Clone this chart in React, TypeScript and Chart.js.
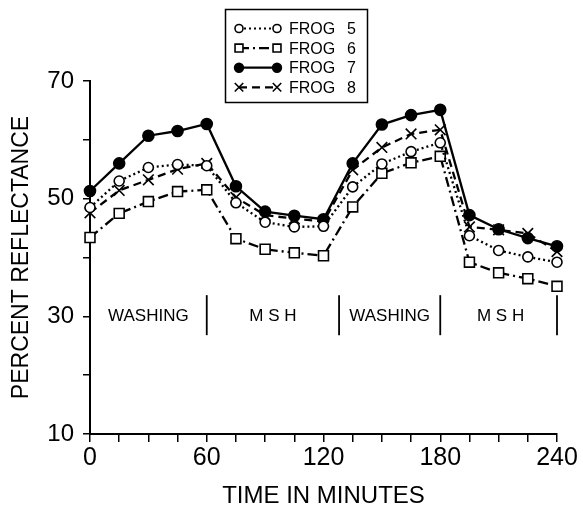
import React, { useEffect, useRef } from 'react';
import { Chart, registerables } from 'chart.js';

Chart.register(...registerables);

const minutes = [0, 15, 30, 45, 60, 75, 90, 105, 120, 135, 150, 165, 180, 195, 210, 225, 240];
const frog5 = [48.5, 53.0, 55.3, 55.8, 55.6, 49.3, 46.0, 45.2, 45.3, 52.0, 55.9, 58.0, 59.5, 43.7, 41.2, 40.1, 39.2];
const frog6 = [43.4, 47.5, 49.5, 51.2, 51.5, 43.2, 41.4, 40.8, 40.3, 48.6, 54.3, 56.1, 57.2, 39.2, 37.4, 36.4, 35.1];
const frog7 = [51.3, 56.0, 60.7, 61.5, 62.7, 52.1, 47.8, 47.1, 46.5, 56.0, 62.6, 64.2, 65.1, 47.2, 44.8, 43.3, 41.9];
const frog8 = [47.6, 51.4, 53.2, 55.0, 56.0, 50.2, 47.2, 46.6, 46.1, 54.9, 58.7, 61.0, 61.7, 45.2, 44.7, 44.1, 41.0];

const seriesNames = ['FROG 5', 'FROG 6', 'FROG 7', 'FROG 8'];
const xTickLabels = [0, 60, 120, 180, 240];
const yTickLabels = [10, 30, 50, 70];

const phaseLabels = ['WASHING', 'M S H', 'WASHING', 'M S H'];
const phaseCenters = [30, 94, 154, 211];
const phaseBounds = [60, 128, 180, 240];
const phaseTop = 33.6;
const phaseBottom = 26.8;
const phaseLabelY = 30;

const FONT = '"Liberation Sans", Arial, sans-serif';

type Style = { pointStyle: string; dash: number[]; filled: boolean; radius: number };

const styles: Style[] = [
  { pointStyle: 'circle', dash: [2, 3], filled: false, radius: 5 },
  { pointStyle: 'rect', dash: [10, 4, 2, 4], filled: false, radius: 7 },
  { pointStyle: 'circle', dash: [], filled: true, radius: 5.5 },
  { pointStyle: 'crossRot', dash: [8, 5], filled: false, radius: 7.5 },
];

function drawMarker(ctx: CanvasRenderingContext2D, st: Style, x: number, y: number, scale = 1) {
  const r = st.radius * scale;
  ctx.save();
  ctx.setLineDash([]);
  ctx.lineWidth = 1.6;
  ctx.strokeStyle = '#000';
  ctx.fillStyle = st.filled ? '#000' : '#fff';
  ctx.beginPath();
  if (st.pointStyle === 'circle') {
    ctx.arc(x, y, r, 0, Math.PI * 2);
    ctx.fill();
    ctx.stroke();
  } else if (st.pointStyle === 'rect') {
    const s = r * Math.SQRT1_2;
    ctx.rect(x - s, y - s, 2 * s, 2 * s);
    ctx.fill();
    ctx.stroke();
  } else {
    const d = r * Math.SQRT1_2;
    ctx.moveTo(x - d, y - d);
    ctx.lineTo(x + d, y + d);
    ctx.moveTo(x - d, y + d);
    ctx.lineTo(x + d, y - d);
    ctx.stroke();
  }
  ctx.restore();
}

const phasePlugin = {
  id: 'phases',
  afterDatasetsDraw(chart: any) {
    const { ctx, scales } = chart;
    const x = scales.x;
    const y = scales.y;
    ctx.save();
    ctx.strokeStyle = '#000';
    ctx.lineWidth = 1.8;
    for (const m of phaseBounds) {
      const px = x.getPixelForValue(m);
      ctx.beginPath();
      ctx.moveTo(px, y.getPixelForValue(phaseTop));
      ctx.lineTo(px, y.getPixelForValue(phaseBottom));
      ctx.stroke();
    }
    ctx.fillStyle = '#000';
    ctx.font = `17px ${FONT}`;
    ctx.textAlign = 'center';
    ctx.textBaseline = 'middle';
    phaseLabels.forEach((t, i) => {
      ctx.fillText(t, x.getPixelForValue(phaseCenters[i]), y.getPixelForValue(phaseLabelY));
    });
    ctx.restore();
  },
};

const legendPlugin = {
  id: 'boxLegend',
  afterDraw(chart: any) {
    const { ctx } = chart;
    const boxX = 225;
    const boxY = 9;
    const boxW = 142;
    const boxH = 93;
    ctx.save();
    ctx.strokeStyle = '#000';
    ctx.lineWidth = 1.5;
    ctx.strokeRect(boxX + 0.5, boxY + 0.5, boxW, boxH);
    const rowY0 = 28.5;
    const rowGap = 19.6;
    const x1 = 239;
    const x2 = 277;
    seriesNames.forEach((name, i) => {
      const st = styles[i];
      const yy = rowY0 + i * rowGap;
      ctx.save();
      ctx.strokeStyle = '#000';
      ctx.lineWidth = 2.2;
      ctx.setLineDash(st.dash);
      ctx.beginPath();
      ctx.moveTo(x1, yy);
      ctx.lineTo(x2, yy);
      ctx.stroke();
      ctx.restore();
      drawMarker(ctx, st, x1, yy, 0.8);
      drawMarker(ctx, st, x2, yy, 0.8);
      const parts = name.split(' ');
      ctx.fillStyle = '#000';
      ctx.font = `16px ${FONT}`;
      ctx.textAlign = 'left';
      ctx.textBaseline = 'middle';
      ctx.fillText(parts[0], 289, yy + 1);
      ctx.fillText(parts[1], 347, yy + 1);
    });
    ctx.restore();
  },
};

export default function App() {
  const ref = useRef<HTMLCanvasElement | null>(null);

  useEffect(() => {
    if (!ref.current) return;
    Chart.defaults.font.family = FONT;
    Chart.defaults.color = '#000';
    const seriesData = [frog5, frog6, frog7, frog8];
    const datasets = seriesData.map((vals, i) => {
      const st = styles[i];
      return {
        label: seriesNames[i],
        data: minutes.map((m, j) => ({ x: m, y: vals[j] })),
        borderColor: '#000',
        borderWidth: 2.3,
        borderDash: st.dash,
        backgroundColor: st.filled ? '#000' : '#fff',
        pointStyle: st.pointStyle as any,
        pointRadius: st.radius,
        pointBorderWidth: 1.6,
        pointBorderColor: '#000',
        pointBackgroundColor: st.filled ? '#000' : '#fff',
        tension: 0,
        clip: false as any,
      };
    });

    const chart = new Chart(ref.current, {
      type: 'line',
      data: { datasets },
      options: {
        animation: false,
        responsive: false,
        devicePixelRatio: 1,
        layout: { padding: { left: 0, top: 81, right: 26, bottom: 0 } },
        plugins: { legend: { display: false }, tooltip: { enabled: false } },
        scales: {
          x: {
            type: 'linear',
            min: 0,
            max: 240,
            afterFit: (s: any) => {
              s.height = 74;
            },
            border: { display: true, color: '#000', width: 2 },
            grid: { drawOnChartArea: false, drawTicks: true, tickLength: 8, color: '#000', lineWidth: 1.5 },
            ticks: {
              stepSize: 15,
              autoSkip: false,
              maxRotation: 0,
              padding: 1,
              color: '#000',
              font: { size: 25 },
              callback: (v: any) => (xTickLabels.includes(Number(v)) ? String(v) : ''),
            },
            title: {
              display: true,
              text: 'TIME IN MINUTES',
              color: '#000',
              font: { size: 24, lineHeight: 1 },
              padding: { top: 0, bottom: 0 },
            },
          },
          y: {
            type: 'linear',
            min: 10,
            max: 70,
            afterFit: (s: any) => {
              s.width = 90;
            },
            border: { display: true, color: '#000', width: 2 },
            grid: { drawOnChartArea: false, drawTicks: true, tickLength: 7, color: '#000', lineWidth: 1.5 },
            ticks: {
              stepSize: 10,
              padding: 9,
              color: '#000',
              font: { size: 24 },
              callback: (v: any) => (yTickLabels.includes(Number(v)) ? String(v) : ''),
            },
            title: {
              display: true,
              text: 'PERCENT REFLECTANCE',
              color: '#000',
              font: { size: 23, lineHeight: 1.2 },
              padding: { top: 8, bottom: 0 },
            },
          },
        },
      },
      plugins: [phasePlugin, legendPlugin],
    });
    return () => chart.destroy();
  }, []);

  return (
    <div style={{ position: 'absolute', left: 0, top: 0, width: 583, height: 508, background: '#fff' }}>
      <canvas ref={ref} width={583} height={508} style={{ width: 583, height: 508, display: 'block' }} />
    </div>
  );
}
